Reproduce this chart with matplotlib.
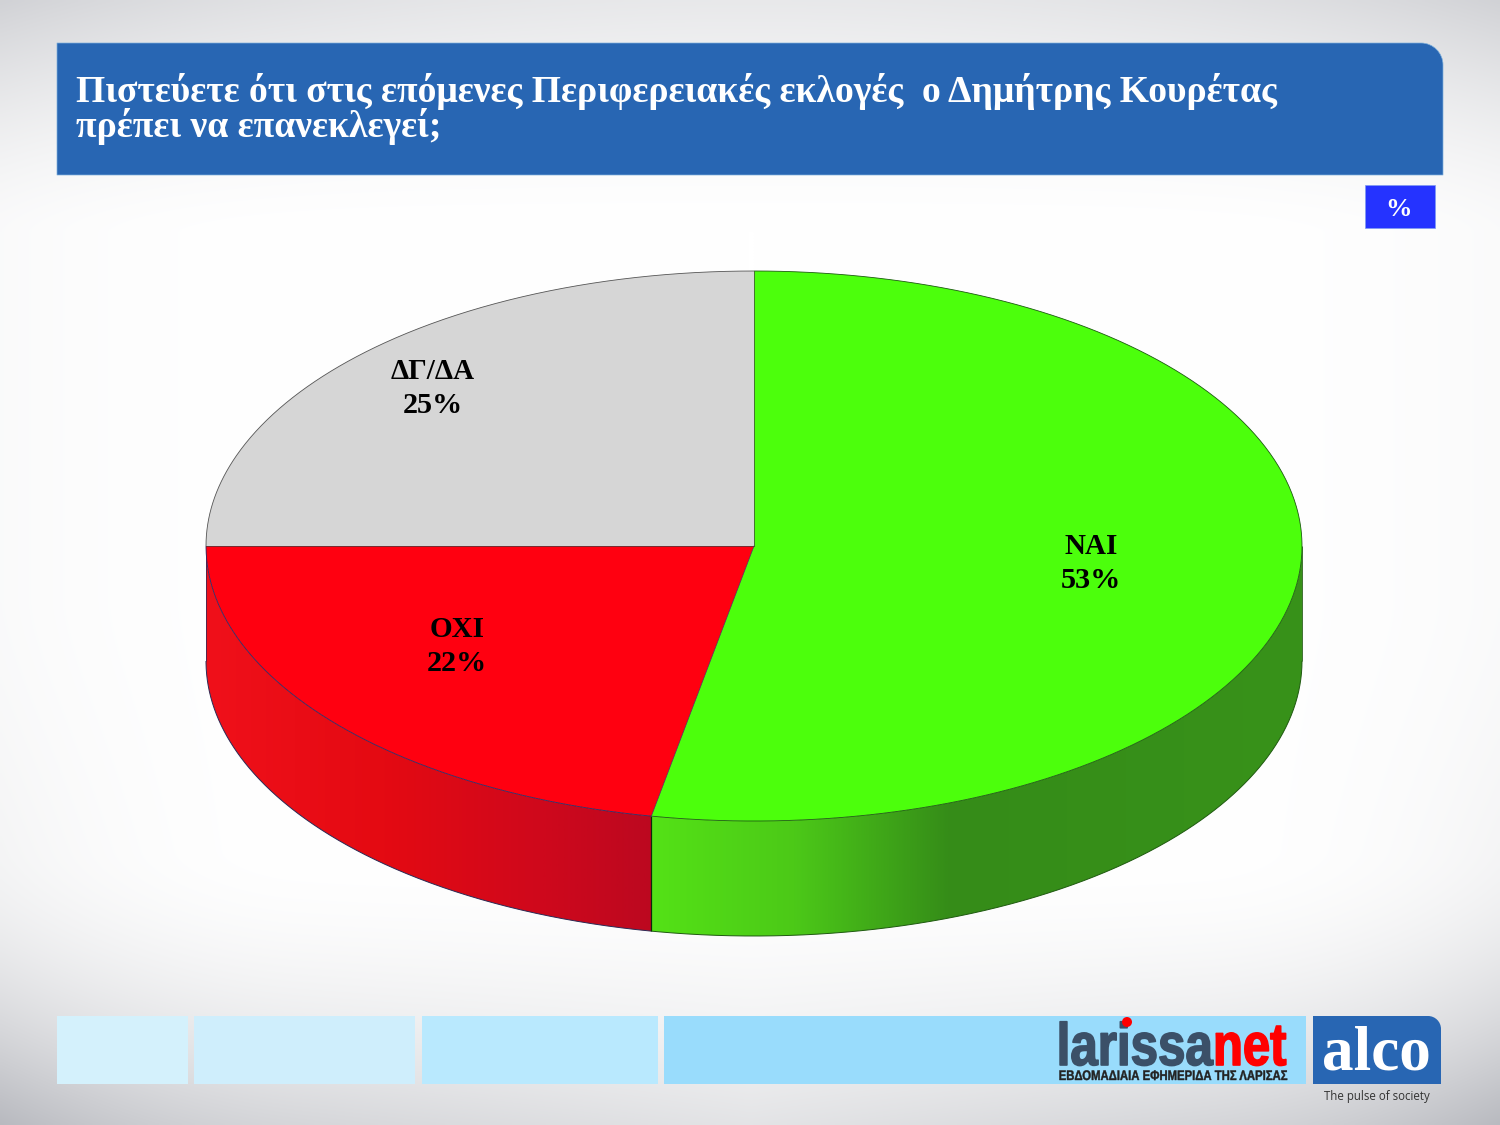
import numpy as np
import matplotlib
matplotlib.use("Agg")
import matplotlib.pyplot as plt
from matplotlib.patches import Polygon, Rectangle, PathPatch, Circle
from matplotlib.path import Path
from matplotlib.colors import LinearSegmentedColormap
from matplotlib.patheffects import AbstractPathEffect
from matplotlib.transforms import Affine2D

# ---- data ----
categories = ["ΝΑΙ", "ΟΧΙ", "ΔΓ/ΔΑ"]
values = [53, 22, 25]
top_colors = ["#4cff0c", "#ff0010", "#d6d6d6"]
title_lines = ["Πιστεύετε ότι στις επόμενες Περιφερειακές εκλογές  ο Δημήτρης Κουρέτας",
               "πρέπει να επανεκλεγεί;"]
label_pos = [(1091, 554), (457, 637), (433, 379)]

SERIF = "Liberation Serif"
SANS = "Liberation Sans"
fig = plt.figure(figsize=(15, 11.25), dpi=100)
ax = fig.add_axes([0, 0, 1, 1])
ax.axis("off")

# background
yy, xx = np.mgrid[0:1125:3, 0:1500:3]
u = np.abs(xx - 750) / 750
d_top = np.clip((230 - yy) / 230, 0, 1) ** 1.5 * (0.09 + 0.07 * u ** 2)
d_bot = np.clip((yy - 850) / 275, 0, 1) ** 1.8 * (0.11 + 0.09 * u)
d_corner = np.clip((u - 0.6) / 0.4, 0, 1) ** 2 * np.clip((yy - 600) / 500, 0, 1) ** 1.5 * 0.06
d_side = u ** 6 * 0.02
shade = d_top + d_bot + d_corner + d_side
bg = np.dstack([1 - shade, 1 - shade * 0.98, 1 - shade * 0.90])
ax.imshow(bg, extent=[0, 1500, 1125, 0], aspect="auto", zorder=0, interpolation="bilinear")
ax.set_xlim(0, 1500)
ax.set_ylim(1125, 0)


class SqueezeX(AbstractPathEffect):
    """Narrows the glyphs of a text about a fixed x, thickening them a little."""

    def __init__(self, x0, sx, bold=0.0):
        super().__init__()
        self.x0, self.sx, self.bold = x0, sx, bold

    def draw_path(self, renderer, gc, tpath, affine, rgbFace=None):
        t = affine + Affine2D().translate(-self.x0, 0).scale(self.sx, 1).translate(self.x0, 0)
        g = renderer.new_gc()
        g.copy_properties(gc)
        if self.bold and rgbFace is not None:
            g.set_foreground(rgbFace[:3])
            g.set_linewidth(self.bold)
        else:
            g.set_linewidth(0)
        renderer.draw_path(g, tpath, t, rgbFace)
        g.restore()


def top_round_rect(x0, y0, x1, y1, r, **kw):
    k = 0.5523 * r
    verts = [(x0, y1), (x0, y0), (x1 - r, y0), (x1 - r + k, y0), (x1, y0 + r - k), (x1, y0 + r), (x1, y1), (x0, y1)]
    codes = [Path.MOVETO, Path.LINETO, Path.LINETO, Path.CURVE4, Path.CURVE4, Path.CURVE4, Path.LINETO, Path.CLOSEPOLY]
    ax.add_patch(PathPatch(Path(verts, codes), **kw))


# header
top_round_rect(57, 43, 1443, 175, 22, fc="#2866b3", ec="#7fb0dc", lw=0.5, zorder=2)
for line, base in zip(title_lines, [102, 137]):
    ax.text(76, base, line, family=SERIF, weight="bold", color="white", fontsize=27.1,
            va="baseline", ha="left", zorder=3)

# % box
ax.add_patch(Rectangle((1364.5, 184.5), 70.5, 43.5, fc="#2533ff", ec="#7f9cf0", lw=0.5, zorder=2))
ax.text(1399, 216, "%", family=SERIF, weight="bold", color="white", fontsize=19, ha="center", va="baseline", zorder=3)

# 3D pie
cx, cy, rx, ry, depth = 754, 546, 548, 275, 115
fractions = np.array(values, dtype=float) / np.sum(values)
edges = np.concatenate([[0], np.cumsum(fractions)]) * 2 * np.pi  # clockwise from 12 o'clock


def ell(theta):
    return cx + rx * np.sin(theta), cy - ry * np.cos(theta)


# side walls: only the front half (pi/2..3pi/2) is visible
side_stops = {
    0: [(0.0, "#54e216"), (0.22, "#4cc918"), (0.46, "#358c18"), (1.0, "#38921a")],
    1: [(0.0, "#f0101a"), (0.4, "#e40a12"), (0.75, "#cf081c"), (1.0, "#bc0820")],
}
wall_edge = {0: "#1f5a10", 1: "#2a2a55"}
for i, stops in side_stops.items():
    a0 = max(edges[i], np.pi / 2)
    a1 = min(edges[i + 1], 3 * np.pi / 2)
    th = np.linspace(a0, a1, 400)
    ex, ey = ell(th)
    outline = np.column_stack([np.r_[ex, ex[::-1]], np.r_[ey, ey[::-1] + depth]])
    cmap = LinearSegmentedColormap.from_list("s", stops, N=512)
    grad = np.linspace(0, 1, 512)[None, :]
    im = ax.imshow(grad, cmap=cmap, extent=[ex.min(), ex.max(), cy + ry + depth + 1, cy - 1],
                   aspect="auto", zorder=4, interpolation="bilinear")
    clip = Polygon(outline, closed=True, transform=ax.transData, fc="none", ec="none")
    ax.add_patch(clip)
    im.set_clip_path(clip)
    ax.plot(ex, ey + depth, color=wall_edge[i], lw=0.7, zorder=5, solid_capstyle="butt")
ax.set_xlim(0, 1500)
ax.set_ylim(1125, 0)

# divider on the wall and outer vertical edges
bx, by = ell(edges[1])
ax.plot([bx, bx], [by, by + depth], color="#0a2a0a", lw=0.9, zorder=6, solid_capstyle="butt")
ax.plot([cx - rx, cx - rx], [cy, cy + depth], color="#3a2a55", lw=0.6, zorder=6, solid_capstyle="butt")
ax.plot([cx + rx, cx + rx], [cy, cy + depth], color="#1f5a10", lw=0.6, zorder=6, solid_capstyle="butt")

# top faces
edge_cols = ["#1c5a10", "#2a2a66", "#555555"]
for i in range(len(values)):
    th = np.linspace(edges[i], edges[i + 1], 400)
    ex, ey = ell(th)
    verts = np.column_stack([np.r_[cx, ex], np.r_[cy, ey]])
    ax.add_patch(Polygon(verts, closed=True, fc=top_colors[i], ec="none", zorder=7))
    ax.plot(ex, ey, color=edge_cols[i], lw=0.6, zorder=8, solid_capstyle="butt")
for i, a in enumerate(edges[:3]):
    x, y = ell(a)
    ax.plot([cx, x], [cy, y], color="#404040" if i != 1 else "#4a3050", lw=0.5, zorder=8)

# labels
for name, val, (lx, ly) in zip(categories, values, label_pos):
    ax.text(lx, ly, name, family=SERIF, weight="bold", fontsize=21, ha="center", va="baseline", color="black", zorder=9)
    ax.text(lx, ly + 34, f"{val}%", family=SERIF, weight="bold", fontsize=21.8, ha="center", va="baseline",
            color="black", zorder=9)

# footer strips
for x0, x1, c in [(57, 188, "#d4f1fc"), (194, 415, "#cfeefc"), (422, 658, "#b9e9fe"), (664, 1306, "#99dcfc")]:
    ax.add_patch(Rectangle((x0, 1016), x1 - x0, 68, fc=c, ec="none", zorder=2))
top_round_rect(1313, 1016, 1441, 1084, 13, fc="#2866b3", ec="none", zorder=2)

# logos (real text, narrowed at drawing time; anchors keep the text boxes apart)
ax.text(1213, 1065, "larissa", family=SANS, weight="bold", fontsize=43, color="#3b5068", ha="right",
        va="baseline", zorder=3, path_effects=[SqueezeX(1213, 0.825, 1.2)])
ax.text(1213, 1065, "net", family=SANS, weight="bold", fontsize=43, color="#ff0000", ha="left",
        va="baseline", zorder=3, path_effects=[SqueezeX(1213, 0.82, 1.2)])
ax.add_patch(Circle((1127, 1022), 5, fc="#ff0000", ec="none", zorder=4))
ax.text(1172.5, 1080, "ΕΒΔΟΜΑΔΙΑΙΑ ΕΦΗΜΕΡΙΔΑ ΤΗΣ ΛΑΡΙΣΑΣ", family=SANS, weight="bold", fontsize=10,
        color="#222222", ha="center", va="baseline", zorder=3, path_effects=[SqueezeX(1172.5, 0.815, 0.3)])
ax.text(1376.5, 1070, "alco", family=SERIF, weight="bold", fontsize=45.5, color="white", ha="center",
        va="baseline", zorder=3)
ax.text(1377, 1100, "The pulse of society", family="Open Sans", fontsize=8.3, color="#333333",
        ha="center", va="baseline", zorder=3)

fig.savefig("out.png", dpi=100)
